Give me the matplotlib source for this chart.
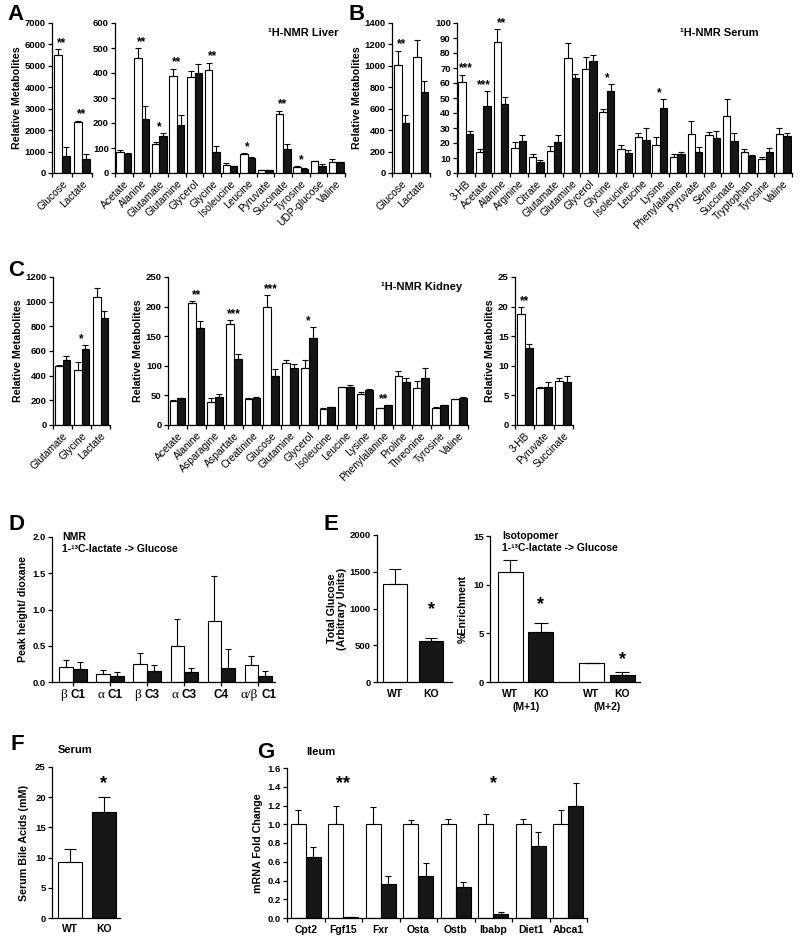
import numpy as np
import matplotlib
matplotlib.use('Agg')
import matplotlib.pyplot as plt
from matplotlib.ticker import FormatStrFormatter
from matplotlib.transforms import blended_transform_factory
from matplotlib.offsetbox import TextArea, HPacker, AnnotationBbox

plt.rcParams['font.family'] = ['Liberation Sans', 'DejaVu Sans']

# ---- A: 1H-NMR liver
liver_big = ['Glucose', 'Lactate']
liver_big_wt = [5500, 2400]
liver_big_wt_err = [300, 50]
liver_big_ko = [800, 650]
liver_big_ko_err = [400, 250]
liver_big_stars = ['**', '**']

liver = ['Acetate', 'Alanine', 'Glutamate', 'Glutamine', 'Glycerol', 'Glycine',
         'Isoleucine', 'Leucine', 'Pyruvate', 'Succinate', 'Tyrosine',
         'UDP-glucose', 'Valine']
liver_wt = [84, 462, 115, 387, 385, 414, 34, 75, 11, 237, 24, 47, 46]
liver_wt_err = [8, 39, 10, 31, 22, 28, 8, 5, 2, 13, 3, 3, 12]
liver_ko = [78, 216, 150, 194, 402, 84, 28, 61, 11, 97, 18, 30, 44]
liver_ko_err = [2, 51, 9, 38, 35, 24, 2, 2, 2, 21, 2, 8, 2]
liver_stars = ['', '**', '*', '**', '', '**', '', '*', '', '**', '*', '', '']

# ---- B: 1H-NMR serum
serum_big = ['Glucose', 'Lactate']
serum_big_wt = [1004, 1085]
serum_big_wt_err = [139, 161]
serum_big_ko = [463, 760]
serum_big_ko_err = [81, 99]
serum_big_stars = ['**', '']

serum = ['3-HB', 'Acetate', 'Alanine', 'Arginine', 'Citrate', 'Glutamate',
         'Glutamine', 'Glycerol', 'Glycine', 'Isoleucine', 'Leucine', 'Lysine',
         'Phenylalanine', 'Pyruvate', 'Serine', 'Succinate', 'Tryptophan',
         'Tyrosine', 'Valine']
serum_wt = [60.5, 14.3, 87.4, 16.6, 10.6, 14.6, 76.6, 69.5, 40.4, 15.9, 23.8,
            19.0, 10.6, 25.8, 25.4, 38.2, 13.9, 9.5, 26.3]
serum_wt_err = [5.1, 1.6, 8.4, 3.9, 1.8, 3.3, 10.2, 7.8, 2.0, 2.9, 3.1, 5.3,
                2.4, 8.9, 2.2, 11.2, 1.8, 1.5, 3.5]
serum_ko = [26.3, 44.6, 45.9, 21.6, 7.5, 20.5, 63.4, 74.8, 54.5, 13.5, 21.9,
            43.5, 12.4, 14.3, 23.6, 21.6, 11.5, 13.9, 24.7]
serum_ko_err = [1.5, 9.9, 5.1, 4.0, 0.9, 5.1, 2.4, 4.2, 4.7, 1.7, 7.9, 5.9,
                1.9, 3.1, 4.2, 5.3, 0.5, 2.7, 2.0]
serum_stars = ['***', '***', '**', '', '', '', '', '', '*', '', '', '*',
               '', '', '', '', '', '', '']

# ---- C: 1H-NMR kidney
kid1 = ['Glutamate', 'Glycine', 'Lactate']
kid1_wt = [478, 444, 1038]
kid1_wt_err = [12, 65, 73]
kid1_ko = [526, 618, 867]
kid1_ko_err = [30, 32, 57]
kid1_stars = ['', '*', '']

kid2 = ['Acetate', 'Alanine', 'Asparagine', 'Aspartate', 'Creatinine', 'Glucose',
        'Glutamine', 'Glycerol', 'Isoleucine', 'Leucine', 'Lysine',
        'Phenylalanine', 'Proline', 'Threonine', 'Tyrosine', 'Valine']
kid2_wt = [40.5, 206, 39.4, 170, 44.4, 199, 104, 97, 27.8, 64, 51.7, 28.3,
           83, 62, 29.4, 43.3]
kid2_wt_err = [2.5, 4, 6.6, 8, 1.5, 21, 5, 12, 1, 1, 3.9, 1, 7.5, 13, 1, 1]
kid2_ko = [45, 164, 47.8, 112, 46, 82, 96, 147, 30, 65, 59.4, 33.3, 72, 79,
           33.3, 45]
kid2_ko_err = [1, 11, 3.9, 7.4, 1.5, 12.4, 7, 19, 1, 3, 1.6, 1.1, 8, 17, 1, 2]
kid2_stars = ['', '**', '', '***', '', '***', '', '*', '', '', '', '**',
              '', '', '', '']

kid3 = ['3-HB', 'Pyruvate', 'Succinate']
kid3_wt = [18.7, 6.2, 7.5]
kid3_wt_err = [1.2, 0.3, 0.5]
kid3_ko = [13.0, 6.4, 7.3]
kid3_ko_err = [0.75, 0.9, 0.9]
kid3_stars = ['**', '', '']

# ---- D: NMR 1-13C-lactate -> glucose
nmr_labels = ['β C1', 'α C1', 'β C3', 'α C3', 'C4', 'α/β C1']
nmr_wt = [0.21, 0.105, 0.245, 0.49, 0.845, 0.23]
nmr_wt_err = [0.09, 0.06, 0.15, 0.38, 0.62, 0.13]
nmr_ko = [0.175, 0.087, 0.15, 0.14, 0.2, 0.085]
nmr_ko_err = [0.095, 0.053, 0.085, 0.06, 0.25, 0.07]

# ---- E: total glucose and isotopomer enrichment
geno = ['WT', 'KO']
total_glc = [1340, 560]
total_glc_err = [200, 45]
iso_labels = ['WT', 'KO', 'WT', 'KO']
iso_groups = ['(M+1)', '(M+2)']
iso_enrich = [11.3, 5.1, 1.95, 0.7]
iso_enrich_err = [1.2, 0.95, 0.05, 0.35]
iso_stars = ['', '*', '', '*']

# ---- F: serum bile acids
bile = [9.3, 17.6]
bile_err = [2.2, 2.4]

# ---- G: ileum mRNA
genes = ['Cpt2', 'Fgf15', 'Fxr', 'Osta', 'Ostb', 'Ibabp', 'Diet1', 'Abca1']
gene_wt = [1.0, 1.0, 1.0, 1.0, 1.0, 1.0, 1.0, 1.0]
gene_wt_err = [0.15, 0.2, 0.18, 0.05, 0.06, 0.11, 0.06, 0.15]
gene_ko = [0.65, 0.01, 0.36, 0.45, 0.33, 0.04, 0.77, 1.2]
gene_ko_err = [0.11, 0.005, 0.09, 0.14, 0.05, 0.02, 0.15, 0.24]
gene_stars = ['', '**', '', '', '', '*', '', '']

KO_COLOR = '#161616'
W, H = 800, 944
fig = plt.figure(figsize=(W / 100, H / 100), dpi=100)


def add_ax(l, t, r, b):
    return fig.add_axes([l / W, 1 - b / H, (r - l) / W, (b - t) / H])


def ftext(x, y, s, **kw):
    fig.text(x / W, 1 - y / H, s, **kw)


def style(ax, ymax, ystep, fmt=None):
    ax.spines[['top', 'right']].set_visible(False)
    ax.spines['left'].set_linewidth(0.9)
    ax.spines['bottom'].set_linewidth(0.9)
    ax.set_ylim(0, ymax)
    ax.set_yticks(np.arange(0, ymax + ystep / 2, ystep))
    if fmt:
        ax.yaxis.set_major_formatter(FormatStrFormatter(fmt))
    ax.tick_params(axis='y', direction='out', length=3, width=0.9,
                   labelsize=6.8, pad=1.5)
    for t in ax.get_yticklabels():
        t.set_fontweight('bold')


def bars(ax, x, vals, errs, w, color, cap=2.0):
    x = np.asarray(x, dtype=float)
    ax.bar(x, vals, w, color=color, edgecolor='black', linewidth=0.8, zorder=2)
    ax.errorbar(x, vals, yerr=[np.zeros(len(vals)), errs], fmt='none',
                ecolor='black', elinewidth=0.8, capsize=cap, capthick=0.8,
                zorder=3)


def metab(ax, names, wt, wt_e, ko, ko_e, stars, ymax, ystep, ylabel=True):
    x = np.arange(len(names))
    w = 0.42
    bars(ax, x - w / 2, wt, wt_e, w, 'white')
    bars(ax, x + w / 2, ko, ko_e, w, KO_COLOR)
    style(ax, ymax, ystep)
    ax.set_xlim(-0.5, len(names) - 0.5)
    ax.set_xticks(x)
    ax.set_xticklabels(names, rotation=45, ha='right', rotation_mode='anchor',
                       fontsize=7.4)
    ax.tick_params(axis='x', which='major', length=0, pad=4)
    ax.set_xticks(np.arange(-0.5, len(names)), minor=True)
    ax.tick_params(axis='x', which='minor', length=3, width=0.9)
    for xi, s, a, ea, b, eb in zip(x, stars, wt, wt_e, ko, ko_e):
        if s:
            ax.text(xi, max(a + ea, b + eb) + 0.02 * ymax, s, ha='center',
                    va='baseline', fontsize=8.5, fontweight='bold')
    if ylabel:
        ax.set_ylabel('Relative Metabolites', fontsize=7.7, fontweight='bold',
                      labelpad=2)


# ---------------- A
ax = add_ax(52, 23, 92, 173)
metab(ax, liver_big, liver_big_wt, liver_big_wt_err, liver_big_ko,
      liver_big_ko_err, liver_big_stars, 7000, 1000)
ax = add_ax(115, 23, 345, 173)
metab(ax, liver, liver_wt, liver_wt_err, liver_ko, liver_ko_err, liver_stars,
      600, 100, ylabel=False)
ax.text(0.97, 0.93, '¹H-NMR Liver', transform=ax.transAxes, ha='right',
        va='center', fontsize=8, fontweight='bold')

# ---------------- B
ax = add_ax(392, 23, 430, 173)
metab(ax, serum_big, serum_big_wt, serum_big_wt_err, serum_big_ko,
      serum_big_ko_err, serum_big_stars, 1400, 200)
ax = add_ax(457, 23, 792, 173)
metab(ax, serum, serum_wt, serum_wt_err, serum_ko, serum_ko_err, serum_stars,
      100, 10, ylabel=False)
ax.text(0.9, 0.93, '¹H-NMR Serum', transform=ax.transAxes, ha='right',
        va='center', fontsize=8, fontweight='bold')

# ---------------- C
ax = add_ax(53, 277, 110, 425)
metab(ax, kid1, kid1_wt, kid1_wt_err, kid1_ko, kid1_ko_err, kid1_stars,
      1200, 200)
ax = add_ax(168, 277, 468, 425)
metab(ax, kid2, kid2_wt, kid2_wt_err, kid2_ko, kid2_ko_err, kid2_stars,
      250, 50)
ax.text(0.98, 0.93, '¹H-NMR Kidney', transform=ax.transAxes, ha='right',
        va='center', fontsize=8, fontweight='bold')
ax = add_ax(515, 277, 573, 425)
metab(ax, kid3, kid3_wt, kid3_wt_err, kid3_ko, kid3_ko_err, kid3_stars, 25, 5)

# ---------------- D
ax = add_ax(52, 537, 275, 682)
x = np.arange(len(nmr_labels))
w = 0.37
bars(ax, x - w / 2, nmr_wt, nmr_wt_err, w, 'white')
bars(ax, x + w / 2, nmr_ko, nmr_ko_err, w, KO_COLOR)
style(ax, 2.0, 0.5, '%.1f')
ax.set_xlim(-0.57, 5.45)
ax.set_xticks(x)
ax.set_xticklabels([])
ax.tick_params(axis='x', length=3, width=0.9)
ax.set_ylabel('Peak height/ dioxane', fontsize=7.7, fontweight='bold',
              labelpad=3)
for xi, lab in zip(x, nmr_labels):
    parts = lab.split(' ')
    if len(parts) == 2:
        kids = [TextArea(parts[0], textprops=dict(family='Liberation Serif',
                                                  size=9.5)),
                TextArea(parts[1], textprops=dict(size=8.5, weight='bold'))]
    else:
        kids = [TextArea(lab, textprops=dict(size=8.5, weight='bold'))]
    box = HPacker(children=kids, pad=0, sep=2.5, align='baseline')
    ab = AnnotationBbox(box, (xi, 0), xycoords=('data', 'axes fraction'),
                        xybox=(0, -5), boxcoords='offset points',
                        box_alignment=(0.5, 1), frameon=False)
    ax.add_artist(ab)
ax.text(0.045, 1.0, 'NMR', transform=ax.transAxes, ha='left', va='center',
        fontsize=7.5, fontweight='bold')
ax.text(0.045, 0.915, '1-¹³C-lactate -> Glucose', transform=ax.transAxes,
        ha='left', va='center', fontsize=7.5, fontweight='bold')

# ---------------- E
ax = add_ax(377, 535, 452, 682)
bars(ax, [0, 1], total_glc, total_glc_err, 0.67, 'white', cap=4)
ax.patches[1].set_facecolor(KO_COLOR)
style(ax, 2000, 500)
ax.set_xlim(-0.5, 1.58)
ax.set_xticks([0, 1])
ax.set_xticklabels(geno, fontsize=7.5, fontweight='bold')
ax.tick_params(axis='x', length=0, pad=5)
ax.set_ylabel('Total Glucose\n(Arbitrary Units)', fontsize=7.7,
              fontweight='bold', labelpad=2, linespacing=0.95)
ax.text(1, total_glc[1] + total_glc_err[1] + 320, '*', ha='center',
        va='baseline', fontsize=13, fontweight='bold')

ax = add_ax(490, 536, 640, 682)
xe = np.array([0, 1, 2.66, 3.66])
bars(ax, xe, iso_enrich, iso_enrich_err, 0.82, 'white', cap=5)
for p in ax.patches[1::2]:
    p.set_facecolor(KO_COLOR)
style(ax, 15, 5)
ax.set_xlim(-0.67, 4.25)
ax.set_xticks(xe)
ax.set_xticklabels(iso_labels, fontsize=7.5, fontweight='bold')
ax.tick_params(axis='x', length=0, pad=5)
ax.set_ylabel('%Enrichment', fontsize=7.7, fontweight='bold', labelpad=4)
tr = blended_transform_factory(ax.transData, ax.transAxes)
for xc, g in zip([0.5, 3.16], iso_groups):
    ax.text(xc, -0.17, g, transform=tr, ha='center', va='center',
            fontsize=7.5, fontweight='bold')
for xi, s, v, e, pad in zip(xe, iso_stars, iso_enrich, iso_enrich_err,
                            [0, 1.45, 0, 0.75]):
    if s:
        ax.text(xi, v + e + pad, s, ha='center', va='baseline', fontsize=13,
                fontweight='bold')
ax.text(0.08, 1.0, 'Isotopomer', transform=ax.transAxes, ha='left',
        va='center', fontsize=7.5, fontweight='bold')
ax.text(0.08, 0.915, '1-¹³C-lactate -> Glucose', transform=ax.transAxes,
        ha='left', va='center', fontsize=7.5, fontweight='bold')

# ---------------- F
ax = add_ax(52, 767, 120, 918)
bars(ax, [0, 1], bile, bile_err, 0.72, 'white', cap=4)
ax.patches[1].set_facecolor(KO_COLOR)
style(ax, 25, 5)
ax.set_xlim(-0.54, 1.49)
ax.set_xticks([0, 1])
ax.set_xticklabels(geno, fontsize=7.5, fontweight='bold')
ax.tick_params(axis='x', length=0, pad=4)
ax.set_ylabel('Serum Bile Acids (mM)', fontsize=7.7, fontweight='bold',
              labelpad=4)
ax.text(1, bile[1] + bile_err[1] + 1.5, '*', ha='center', va='baseline',
        fontsize=13, fontweight='bold')

# ---------------- G
ax = add_ax(287, 768, 587, 918)
xg = np.arange(len(genes))
w = 0.4
bars(ax, xg - w / 2, gene_wt, gene_wt_err, w, 'white', cap=2.5)
bars(ax, xg + w / 2, gene_ko, gene_ko_err, w, KO_COLOR, cap=2.5)
style(ax, 1.6, 0.2, '%.1f')
ax.set_xlim(-0.5, len(genes) - 0.5)
ax.set_xticks(xg)
ax.set_xticklabels(genes, fontsize=7.5, fontweight='bold')
ax.tick_params(axis='x', which='major', length=0, pad=5)
ax.set_xticks(np.arange(-0.5, len(genes)), minor=True)
ax.tick_params(axis='x', which='minor', length=3, width=0.9)
ax.set_ylabel('mRNA Fold Change', fontsize=7.7, fontweight='bold', labelpad=3)
for xi, s in zip(xg, gene_stars):
    if s:
        ax.text(xi, 1.39, s, ha='center', va='baseline', fontsize=13,
                fontweight='bold')

# ---------------- panel letters and headings
for x0, y0, letter in [(16, 15, 'A'), (357, 15, 'B'), (16, 270, 'C'),
                       (17, 524, 'D'), (331, 524, 'E'), (17, 745, 'F'),
                       (266, 752, 'G')]:
    ftext(x0, y0, letter, ha='center', va='center', fontsize=16,
          fontweight='bold')
ftext(58, 750, 'Serum', ha='left', va='center', fontsize=8, fontweight='bold')
ftext(306, 752, 'Ileum', ha='left', va='center', fontsize=8, fontweight='bold')

fig.savefig('out.png', dpi=100, facecolor='white')
